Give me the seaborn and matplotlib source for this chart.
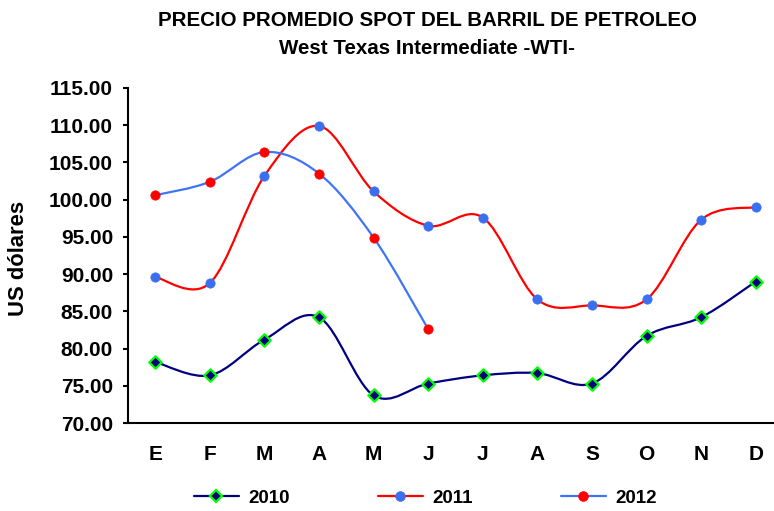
import numpy as np
import pandas as pd
import matplotlib
matplotlib.use("Agg")
import matplotlib.pyplot as plt
import seaborn as sns
from matplotlib.path import Path
from matplotlib.patches import PathPatch
from matplotlib.lines import Line2D

months = ["E", "F", "M", "A", "M", "J", "J", "A", "S", "O", "N", "D"]
wti_2010 = [78.2, 76.4, 81.2, 84.2, 73.7, 75.3, 76.4, 76.7, 75.3, 81.7, 84.2, 89.0]
wti_2011 = [89.6, 88.8, 103.2, 109.9, 101.1, 96.5, 97.6, 86.6, 85.8, 86.6, 97.3, 99.0]
wti_2012 = [100.6, 102.4, 106.4, 103.5, 94.9, 82.6]
y_ticks = [70, 75, 80, 85, 90, 95, 100, 105, 110, 115]
years = ["2010", "2011", "2012"]

sns.set_theme(style="white")
plt.rcParams["font.family"] = ["Liberation Sans", "DejaVu Sans"]
plt.rcParams["font.weight"] = "bold"
plt.rcParams["text.color"] = "black"
plt.rcParams["xtick.color"] = "black"
plt.rcParams["ytick.color"] = "black"
plt.rcParams["axes.labelcolor"] = "black"

fig = plt.figure(figsize=(7.74, 5.11), dpi=100)
ax = fig.add_axes([128 / 774, 1 - 423 / 511, 655 / 774, (423 - 88) / 511])


def smooth_path(xs, ys):
    pts = np.column_stack([xs, ys]).astype(float)
    n = len(pts)
    verts = [pts[0]]
    codes = [Path.MOVETO]
    for i in range(n - 1):
        p0 = pts[max(i - 1, 0)]
        p1 = pts[i]
        p2 = pts[i + 1]
        p3 = pts[min(i + 2, n - 1)]
        c1 = p1 + (p2 - p0) / 6.0
        c2 = p2 - (p3 - p1) / 6.0
        verts += [c1, c2, p2]
        codes += [Path.CURVE4] * 3
    return Path(verts, codes)


series = [
    (wti_2010, "#000080", "D", "#000080", "#00ff00", 40),
    (wti_2011, "#ff0000", "o", "#3a6ff0", "#3a6ff0", 45),
    (wti_2012, "#3f74f5", "o", "#ff0000", "#ff0000", 45),
]

for vals, lc, mk, mfc, mec, ms in series:
    x = np.arange(len(vals))
    ax.add_patch(PathPatch(smooth_path(x, vals), facecolor="none",
                           edgecolor=lc, lw=1.6, zorder=2,
                           capstyle="round", joinstyle="round"))
for vals, lc, mk, mfc, mec, ms in series:
    df = pd.DataFrame({"x": np.arange(len(vals)), "y": vals})
    sns.scatterplot(data=df, x="x", y="y", ax=ax, marker=mk, s=ms,
                    color=mfc, edgecolor=mec,
                    linewidth=1.6 if mk == "D" else 0.5, zorder=3)

ax.set_xlim(-0.5, 11.5)
ax.set_ylim(70, 115)
ax.set_xlabel("")
ax.set_ylabel("")

ax.set_yticks(y_ticks)
ax.set_yticklabels([f"{v:.2f}" for v in y_ticks], fontsize=15, fontweight="bold", color="black")
ax.set_xticks(np.arange(12))
ax.set_xticklabels(months, fontsize=15, fontweight="bold", color="black")
ax.set_xticks(np.arange(-0.5, 12, 1), minor=True)
ax.tick_params(axis="x", which="major", length=0, pad=16)
ax.tick_params(axis="x", which="minor", length=5, width=1.5, direction="out", color="black")
ax.tick_params(axis="y", which="major", length=3.8, width=1.5, direction="out",
               color="black", pad=7, left=True)

for s in ["top", "right"]:
    ax.spines[s].set_visible(False)
for s in ["left", "bottom"]:
    ax.spines[s].set_color("black")
    ax.spines[s].set_linewidth(1.5)
ax.grid(False)

fig.text(427 / 774, 1 - 20 / 511, "PRECIO PROMEDIO SPOT DEL BARRIL DE PETROLEO",
         ha="center", va="center", fontsize=14.8, fontweight="bold", color="black")
fig.text(427 / 774, 1 - 48 / 511, "West Texas Intermediate -WTI-",
         ha="center", va="center", fontsize=14.8, fontweight="bold", color="black")
fig.text(19 / 774, 1 - 258 / 511, "US dólares", rotation=90,
         ha="center", va="center", fontsize=15.8, fontweight="bold", color="black")

handles = []
for vals, lc, mk, mfc, mec, ms in series:
    handles.append(Line2D([0], [0], color=lc, lw=1.6, marker=mk,
                          markerfacecolor=mfc, markeredgecolor=mec,
                          markersize=6.5 if mk == "D" else 7,
                          markeredgewidth=1.6 if mk == "D" else 0.5))
leg = fig.legend(handles, years, loc="center", bbox_to_anchor=(425 / 774, 1 - 498 / 511),
                 ncol=3, frameon=False, handlelength=2.4, handletextpad=0.5,
                 columnspacing=4.7, prop={"size": 13.5, "weight": "bold"})
for t in leg.get_texts():
    t.set_color("black")

fig.savefig("out.png", dpi=100)
